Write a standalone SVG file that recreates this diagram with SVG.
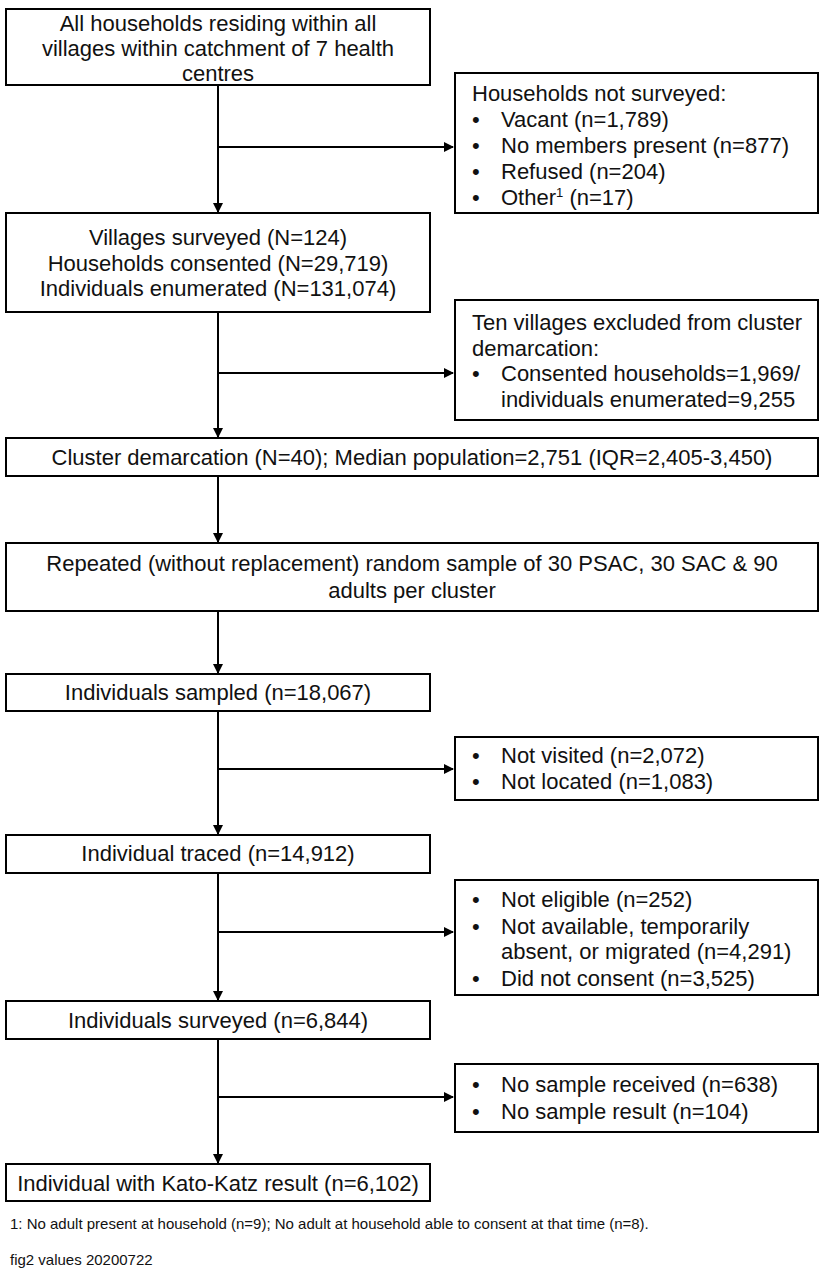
<svg xmlns="http://www.w3.org/2000/svg" width="822" height="1280" viewBox="0 0 822 1280">
<style>
rect{fill:#fff;stroke:#000;stroke-width:2}
text{font-family:"Liberation Sans",Arial,sans-serif;font-size:22px;fill:#111}
.c{text-anchor:middle}
.f{font-size:15px}
line{stroke:#000;stroke-width:2}
</style>
<defs><marker id="a" viewBox="0 0 10 10" refX="9" refY="5" markerWidth="5" markerHeight="5" orient="auto" markerUnits="strokeWidth"><path d="M0,0L10,5L0,10z" fill="#000"/></marker></defs>
<rect width="822" height="1280" style="stroke:none"/>
<g id="connectors">
<line x1="218" y1="85" x2="218" y2="212" marker-end="url(#a)"/>
<line x1="218" y1="147" x2="453" y2="147" marker-end="url(#a)"/>
<line x1="218" y1="312" x2="218" y2="437" marker-end="url(#a)"/>
<line x1="218" y1="373" x2="453" y2="373" marker-end="url(#a)"/>
<line x1="218" y1="476" x2="218" y2="542" marker-end="url(#a)"/>
<line x1="218" y1="611" x2="218" y2="673" marker-end="url(#a)"/>
<line x1="218" y1="711" x2="218" y2="834" marker-end="url(#a)"/>
<line x1="218" y1="769" x2="453" y2="769" marker-end="url(#a)"/>
<line x1="218" y1="873" x2="218" y2="1000" marker-end="url(#a)"/>
<line x1="218" y1="932" x2="453" y2="932" marker-end="url(#a)"/>
<line x1="218" y1="1039" x2="218" y2="1163" marker-end="url(#a)"/>
<line x1="218" y1="1097" x2="453" y2="1097" marker-end="url(#a)"/>
</g>
<g id="n1"><rect x="6" y="9" width="424" height="76"/>
<text class="c" x="218" y="31">All households residing within all</text>
<text class="c" x="218" y="56">villages within catchment of 7 health</text>
<text class="c" x="218" y="81">centres</text></g>
<g id="s1"><rect x="455" y="73" width="363" height="140"/>
<text x="472" y="101">Households not surveyed:</text>
<text x="472" y="127">•</text><text x="501" y="127">Vacant (n=1,789)</text>
<text x="472" y="153">•</text><text x="501" y="153">No members present (n=877)</text>
<text x="472" y="179">•</text><text x="501" y="179">Refused (n=204)</text>
<text x="472" y="205">•</text><text x="501" y="205">Other<tspan font-size="13" dy="-8">1</tspan><tspan dy="8"> (n=17)</tspan></text></g>
<g id="n2"><rect x="6" y="213" width="424" height="99"/>
<text class="c" x="218" y="245">Villages surveyed (N=124)</text>
<text class="c" x="218" y="271">Households consented (N=29,719)</text>
<text class="c" x="218" y="296">Individuals enumerated (N=131,074)</text></g>
<g id="s2"><rect x="455" y="300" width="363" height="120"/>
<text x="472" y="330">Ten villages excluded from cluster</text>
<text x="472" y="356">demarcation:</text>
<text x="472" y="381">•</text><text x="501" y="381">Consented households=1,969/</text>
<text x="501" y="407">individuals enumerated=9,255</text></g>
<g id="n3"><rect x="6" y="438" width="812" height="38"/>
<text class="c" x="412" y="465">Cluster demarcation (N=40); Median population=2,751 (IQR=2,405-3,450)</text></g>
<g id="n4"><rect x="6" y="543" width="812" height="68"/>
<text class="c" x="412" y="571">Repeated (without replacement) random sample of 30 PSAC, 30 SAC &amp; 90</text>
<text class="c" x="412" y="598">adults per cluster</text></g>
<g id="n5"><rect x="6" y="674" width="424" height="37"/>
<text class="c" x="218" y="700">Individuals sampled (n=18,067)</text></g>
<g id="s3"><rect x="455" y="737" width="363" height="63"/>
<text x="472" y="763">•</text><text x="501" y="763">Not visited (n=2,072)</text>
<text x="472" y="789">•</text><text x="501" y="789">Not located (n=1,083)</text></g>
<g id="n6"><rect x="6" y="835" width="424" height="38"/>
<text class="c" x="218" y="861">Individual traced (n=14,912)</text></g>
<g id="s4"><rect x="455" y="880" width="363" height="115"/>
<text x="472" y="907">•</text><text x="501" y="907">Not eligible (n=252)</text>
<text x="472" y="934">•</text><text x="501" y="934">Not available, temporarily</text>
<text x="501" y="959">absent, or migrated (n=4,291)</text>
<text x="472" y="986">•</text><text x="501" y="986">Did not consent (n=3,525)</text></g>
<g id="n7"><rect x="6" y="1001" width="424" height="38"/>
<text class="c" x="218" y="1028">Individuals surveyed (n=6,844)</text></g>
<g id="s5"><rect x="455" y="1064" width="363" height="68"/>
<text x="472" y="1092">•</text><text x="501" y="1092">No sample received (n=638)</text>
<text x="472" y="1119">•</text><text x="501" y="1119">No sample result (n=104)</text></g>
<g id="n8"><rect x="6" y="1164" width="424" height="37"/>
<text class="c" x="218" y="1191">Individual with Kato-Katz result (n=6,102)</text></g>
<text class="f" x="10" y="1229">1: No adult present at household (n=9); No adult at household able to consent at that time (n=8).</text>
<text class="f" x="10" y="1265">fig2 values 20200722</text>
</svg>
